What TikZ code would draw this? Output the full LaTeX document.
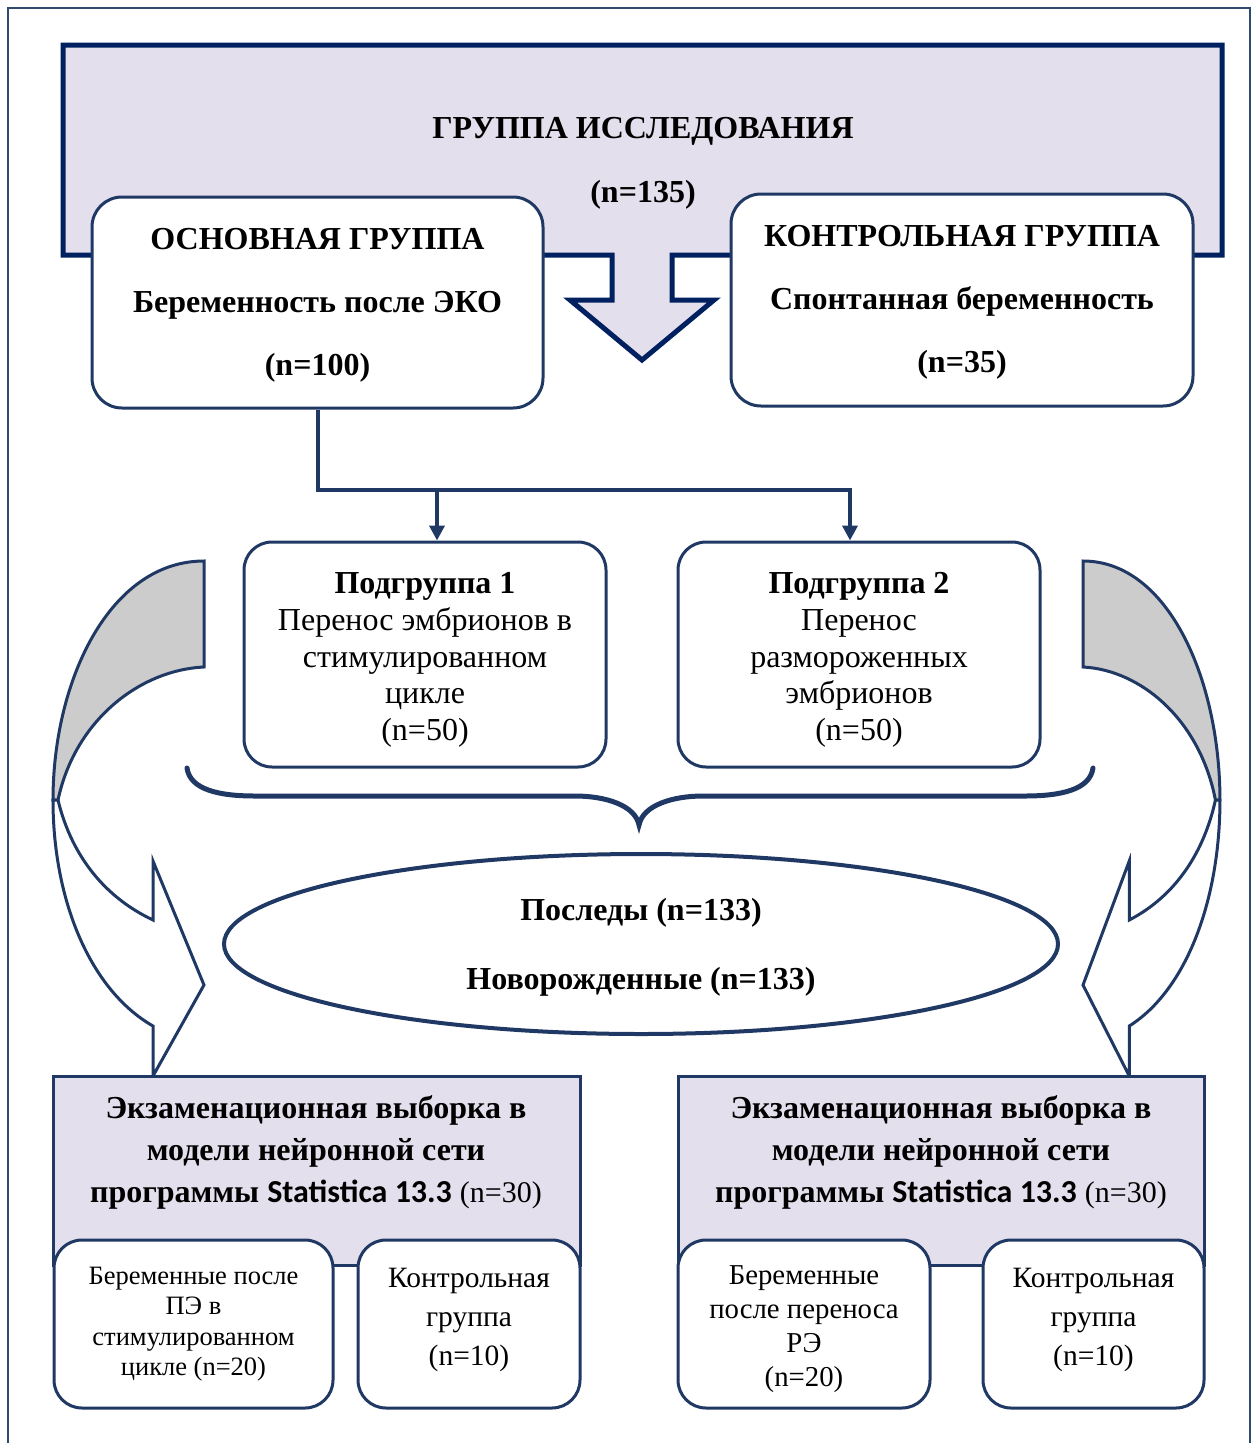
\documentclass[tikz,border=0pt]{standalone}
\usepackage{fontspec}
\setmainfont{Liberation Serif}
\newfontfamily\statfont{Carlito}
\usetikzlibrary{positioning}
\usetikzlibrary{shapes.geometric}
\usetikzlibrary{arrows.meta}
\definecolor{navy}{HTML}{002060}
\definecolor{boxline}{HTML}{1F3864}
\definecolor{lavender}{HTML}{E4DFEC}
\definecolor{shade}{HTML}{CCCCCC}
\definecolor{frameline}{HTML}{2F4B6E}

% struts that nudge the text of a box down (top) or up (bottom)
\newcommand{\topgap}[1]{\rule{0pt}{#1}}
\newcommand{\lowgap}[1]{\rule[-#1]{0pt}{#1}}

% curved side arrow: #1 = x of its top end, #2 = horizontal scale (negative mirrors it)
\newcommand{\bentarrow}[2]{%
  \begin{scope}[shift={(#1,0)},xscale=#2]
    \filldraw[bent,fill=shade] (0,561) .. controls (-94,561) and (-151,680) .. (-151,800)
      -- (-146,800) .. controls (-129,720) and (-64,670) .. (0,667) -- cycle;
    \filldraw[bent,fill=white] (-151,800) .. controls (-151,900) and (-114,990) .. (-51,1026)
      -- (-51,1076) -- (0,985) -- (-51,861) -- (-51,920)
      .. controls (-104,895) and (-134,850) .. (-146,800) -- cycle;
  \end{scope}}

\begin{document}
\begin{tikzpicture}[x=1pt,y=-1pt,
    bent/.style={draw=boxline, line width=3pt},
    rbox/.style={draw=boxline, line width=3pt, fill=white, rounded corners=30pt, align=center, inner sep=0pt},
    sbox/.style={rbox, rounded corners=28pt},
    exam/.style={draw=boxline, line width=3pt, fill=lavender, inner sep=0pt},
    conn/.style={draw=boxline, line width=4pt, -{Triangle[width=15pt,length=15pt]}},
    bigtext/.style={font=\fontsize{32}{63}\selectfont\bfseries},
    subtext/.style={font=\fontsize{32}{36.8}\selectfont},
    examtext/.style={align=center, font=\fontsize{32}{42}\selectfont\bfseries}]
  \useasboundingbox (0,0) rectangle (1253,1443);
  \draw[frameline, line width=2pt] (8,1450) -- (8,8) -- (1250,8) -- (1250,1450);

  % study group with its arrow
  \filldraw[draw=navy, fill=lavender, line width=5pt] (63,45) -- (1222,45) -- (1222,255) -- (672,255)
    -- (672,300) -- (714,300) -- (642,360) -- (570,300) -- (612,300) -- (612,255) -- (63,255) -- cycle;
  \node[align=center, font=\fontsize{32}{64}\selectfont\bfseries] (grp) at (643,163) {ГРУППА ИССЛЕДОВАНИЯ\\(n=135)};

  \node[rbox, bigtext, minimum width=451pt, minimum height=211pt] (main) at (317.5,302.5)
    {\topgap{26pt}ОСНОВНАЯ ГРУППА\\Беременность после ЭКО\\(n=100)};
  \node[rbox, bigtext, minimum width=462pt, minimum height=212pt] (ctrl) at (962,300)
    {\topgap{26pt}КОНТРОЛЬНАЯ ГРУППА\\Спонтанная беременность\\(n=35)};

  \node[sbox, subtext, minimum width=362pt, minimum height=225pt] (sub1) at (425,654.5)
    {\topgap{32pt}\textbf{Подгруппа 1}\\Перенос эмбрионов в\\стимулированном\\цикле\\(n=50)};
  \node[sbox, subtext, minimum width=362pt, minimum height=225pt] (sub2) at (859,654.5)
    {\topgap{32pt}\textbf{Подгруппа 2}\\Перенос\\размороженных\\эмбрионов\\(n=50)};

  \coordinate (br1) at (437,490);
  \coordinate (br2) at (850,490);
  \draw[conn] (main.south) |- (br2) -- (br2 |- sub2.north);
  \draw[conn] (br1) -- (br1 |- sub1.north);

  % brace under the subgroups
  \draw[boxline, line width=5pt, line cap=round] (187,768) .. controls (190,790) and (220,796) .. (255,796)
    -- (575,796) .. controls (605,796) and (635,805) .. (639,825)
    .. controls (643,805) and (673,796) .. (703,796) -- (1025,796)
    .. controls (1060,796) and (1090,790) .. (1093,768);

  \bentarrow{204}{1}
  \bentarrow{1083}{-0.907}

  \node[ellipse, draw=boxline, line width=4pt, minimum width=834pt, minimum height=180pt, inner sep=0pt,
    align=center, font=\fontsize{32}{69}\selectfont\bfseries] (post) at (641,944)
    {\topgap{28pt}Последы (n=133)\\Новорожденные (n=133)};

  % test samples
  \node[exam, minimum width=527pt, minimum height=189pt] (exam1) at (316.5,1170.5) {};
  \node[examtext] (exam1txt) at (316,1152)
    {Экзаменационная выборка в\\модели нейронной сети\\программы {\statfont Statistica 13.3} {\mdseries\fontsize{30}{42}\selectfont (n=30)}};
  \node[sbox, align=center, font=\fontsize{26.5}{30.3}\selectfont, minimum width=279pt, minimum height=168pt] (subA) at (193.5,1324)
    {Беременные после\\ПЭ в\\стимулированном\\цикле (n=20)};
  \node[sbox, align=center, font=\fontsize{29.5}{39}\selectfont, minimum width=222pt, minimum height=168pt] (subB) at (469,1324)
    {Контрольная\\группа\\(n=10)\lowgap{15pt}};

  \node[exam, minimum width=526pt, minimum height=189pt] (exam2) at (941,1170.5) {};
  \node[examtext] (exam2txt) at (941,1152)
    {Экзаменационная выборка в\\модели нейронной сети\\программы {\statfont Statistica 13.3} {\mdseries\fontsize{30}{42}\selectfont (n=30)}};
  \node[sbox, align=center, font=\fontsize{28.8}{33.7}\selectfont, minimum width=252pt, minimum height=168pt] (subC) at (804,1324)
    {\topgap{29pt}Беременные\\после переноса\\РЭ\\(n=20)};
  \node[sbox, align=center, font=\fontsize{29.5}{39}\selectfont, minimum width=221pt, minimum height=168pt] (subD) at (1093.5,1324)
    {Контрольная\\группа\\(n=10)\lowgap{15pt}};
\end{tikzpicture}
\end{document}
